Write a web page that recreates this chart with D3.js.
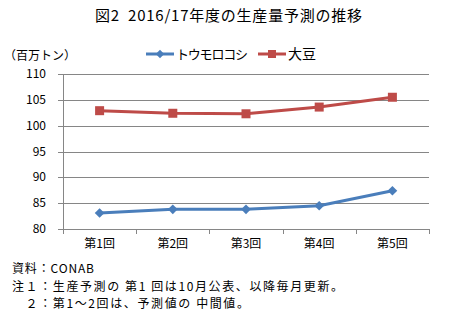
<!DOCTYPE html>
<html>
<head>
<meta charset="utf-8">
<script src="https://cdn.jsdelivr.net/npm/d3@7"></script>
<style>
    body { margin: 0; background: #fff; }
    text { font-family: "Noto Sans CJK JP", sans-serif; fill: #000; white-space: pre; }
    .grid line { stroke: #868686; stroke-width: 1; }
    .axis path, .axis line { stroke: #868686; stroke-width: 1; shape-rendering: crispEdges; }
</style>
</head>
<body>
<script>
// rounds of the forecast
var rounds = ["第1回", "第2回", "第3回", "第4回", "第5回"];

// production forecast, million tonnes
var corn = [83.1, 83.8, 83.8, 84.5, 87.4];
var soy = [102.9, 102.4, 102.3, 103.6, 105.5];

var yTicks = [80, 85, 90, 95, 100, 105, 110];

var seriesNames = ["トウモロコシ", "大豆"];
var notes = ["資料：CONAB", "注１：生産予測の 第1 回は10月公表、以降毎月更新。", "　２：第1～2回は、予測値の 中間値。"];
var noteWidths = [82, 331, 237];

function init() {
    var W = 453, H = 329;
    var left = 63, right = 429, top = 74, bottom = 229;

    var svg = d3.select("body").append("svg")
        .attr("width", W)
        .attr("height", H);

    //title
    svg.append("text")
        .attr("x", 95)
        .attr("y", 21)
        .attr("textLength", 267)
        .style("font-size", "15px")
        .text("図2  2016/17年度の生産量予測の推移");

    //scales
    var xScale = d3.scaleBand().domain(rounds).range([left, right]);
    var yScale = d3.scaleLinear().domain([80, 110]).range([bottom, top]);

    //horizontal gridlines with tick marks
    svg.append("g")
        .attr("class", "grid")
        .selectAll("line")
        .data(yTicks)
        .enter().append("line")
        .attr("x1", left - 5)
        .attr("x2", right)
        .attr("y1", function (d) { return Math.round(yScale(d)) + 0.5; })
        .attr("y2", function (d) { return Math.round(yScale(d)) + 0.5; });

    //y labels
    svg.append("g")
        .selectAll("text")
        .data(yTicks)
        .enter().append("text")
        .attr("x", 46)
        .attr("y", function (d) { return yScale(d) + 4; })
        .attr("text-anchor", "end")
        .style("font-size", "12px")
        .text(function (d) { return d; });

    //y axis line
    svg.append("line")
        .attr("x1", left + 0.5).attr("x2", left + 0.5)
        .attr("y1", top).attr("y2", bottom)
        .style("stroke", "#868686");

    //x axis: tick marks on band boundaries
    var bounds = rounds.map(function (r) { return xScale(r); }).concat([right]);
    var xg = svg.append("g").attr("class", "axis");
    xg.append("line")
        .attr("x1", left).attr("x2", right)
        .attr("y1", Math.round(bottom) + 0.5).attr("y2", Math.round(bottom) + 0.5);
    xg.selectAll(".tk")
        .data(bounds)
        .enter().append("line")
        .attr("x1", function (d) { return Math.round(d) + 0.5; })
        .attr("x2", function (d) { return Math.round(d) + 0.5; })
        .attr("y1", bottom)
        .attr("y2", bottom + 5);

    svg.append("g")
        .selectAll("text")
        .data(rounds)
        .enter().append("text")
        .attr("x", function (d) { return xScale(d) + xScale.bandwidth() / 2; })
        .attr("y", 248)
        .attr("text-anchor", "middle")
        .style("font-size", "12px")
        .text(function (d) { return d; });

    //unit label
    svg.append("text")
        .attr("x", 4)
        .attr("y", 60)
        .style("font-size", "12px")
        .text("（百万トン）");

    var cx = function (d, i) { return xScale(rounds[i]) + xScale.bandwidth() / 2; };
    var line = d3.line()
        .x(cx)
        .y(function (d) { return yScale(d); });

    //corn line with diamond markers
    svg.append("path")
        .datum(corn)
        .attr("d", line)
        .style("fill", "none")
        .style("stroke", "#4a7ebb")
        .style("stroke-width", 3);

    var diamond = d3.symbol().type(d3.symbolDiamond2).size(60);
    svg.append("g")
        .selectAll("path")
        .data(corn)
        .enter().append("path")
        .attr("d", diamond)
        .attr("transform", function (d, i) { return "translate(" + cx(d, i) + "," + yScale(d) + ")"; })
        .style("fill", "#4a7ebb");

    //soybean line with square markers
    svg.append("path")
        .datum(soy)
        .attr("d", line)
        .style("fill", "none")
        .style("stroke", "#be4b48")
        .style("stroke-width", 3);

    svg.append("g")
        .selectAll("rect")
        .data(soy)
        .enter().append("rect")
        .attr("x", function (d, i) { return cx(d, i) - 4.5; })
        .attr("y", function (d) { return yScale(d) - 4.5; })
        .attr("width", 9)
        .attr("height", 9)
        .style("fill", "#be4b48");

    //legend
    var legend = svg.append("g");
    legend.append("line")
        .attr("x1", 146).attr("x2", 174).attr("y1", 54).attr("y2", 54)
        .style("stroke", "#4a7ebb").style("stroke-width", 3);
    legend.append("path")
        .attr("d", d3.symbol().type(d3.symbolDiamond2).size(45))
        .attr("transform", "translate(160,54)")
        .style("fill", "#4a7ebb");
    legend.append("text")
        .attr("x", 176).attr("y", 59)
        .attr("textLength", 72)
        .style("font-size", "13px")
        .text(seriesNames[0]);

    legend.append("line")
        .attr("x1", 258).attr("x2", 286).attr("y1", 54).attr("y2", 54)
        .style("stroke", "#be4b48").style("stroke-width", 3);
    legend.append("rect")
        .attr("x", 268).attr("y", 50).attr("width", 8).attr("height", 8)
        .style("fill", "#be4b48");
    legend.append("text")
        .attr("x", 288).attr("y", 59)
        .style("font-size", "14px")
        .text(seriesNames[1]);

    //source and notes
    svg.append("g")
        .selectAll("text")
        .data(notes)
        .enter().append("text")
        .attr("x", 12)
        .attr("y", function (d, i) { return 273 + i * 17.5; })
        .attr("textLength", function (d, i) { return noteWidths[i]; })
        .style("font-size", "12px")
        .text(function (d) { return d; });
}

window.onload = init;
</script>
</body>
</html>
